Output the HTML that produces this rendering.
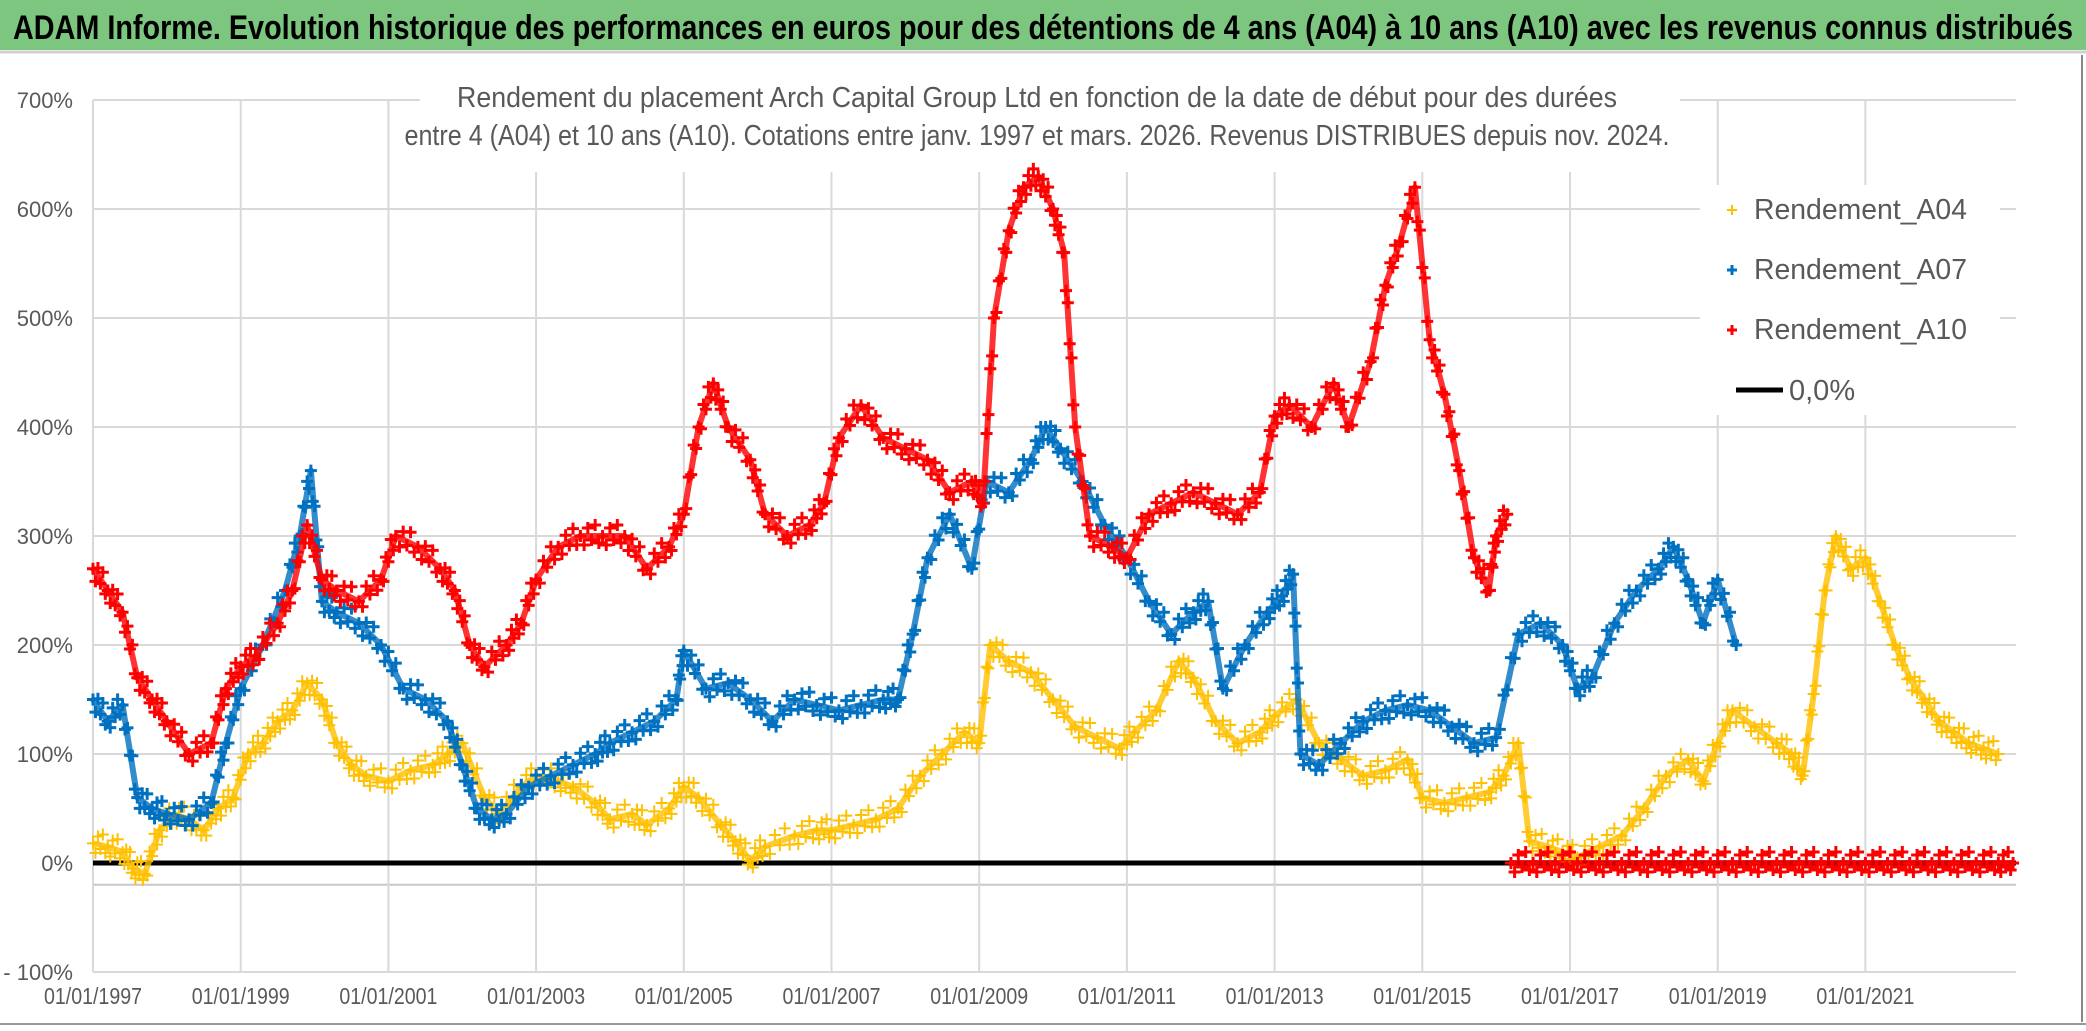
<!DOCTYPE html>
<html><head><meta charset="utf-8"><style>
body{margin:0;background:#fff;}
svg{display:block;font-family:"Liberation Sans Narrow","Liberation Sans",sans-serif;}
</style></head><body>
<svg id="chart" width="2086" height="1031" viewBox="0 0 2086 1031" xmlns="http://www.w3.org/2000/svg">
<rect x="0" y="0" width="2086" height="1031" fill="#fff"/>
<rect x="0" y="0" width="2086" height="50" fill="#7dc67f"/>
<line x1="0" y1="52" x2="2086" y2="52" stroke="#d0d0d0" stroke-width="3"/>
<text x="1043" y="39" text-anchor="middle" font-size="34" font-weight="bold" textLength="2060" lengthAdjust="spacingAndGlyphs" fill="#000">ADAM Informe. Evolution historique des performances en euros pour des détentions de 4 ans (A04) à 10 ans (A10) avec les revenus connus distribués</text>
<line x1="2082" y1="55" x2="2082" y2="1022" stroke="#888" stroke-width="2"/>
<line x1="0" y1="1024" x2="2086" y2="1024" stroke="#999" stroke-width="2"/>
<g id="grid"></g>
<g id="yticks"></g>
<g id="xticks"></g>
<rect x="420" y="72" width="1260" height="100" fill="#fff"/>
<g id="series"></g>
<text x="1037" y="107" text-anchor="middle" font-size="29" fill="#595959" textLength="1160" lengthAdjust="spacingAndGlyphs">Rendement du placement Arch Capital Group Ltd en fonction de la date de début pour des durées</text>
<text x="1037" y="145" text-anchor="middle" font-size="29" fill="#595959" textLength="1265" lengthAdjust="spacingAndGlyphs">entre 4 (A04) et 10 ans (A10). Cotations entre janv. 1997 et mars. 2026. Revenus DISTRIBUES depuis nov. 2024.</text>
<g>
<rect x="1700" y="185" width="300" height="230" fill="#fff"/>
<g><text x="1754" y="219" font-size="29" fill="#595959" textLength="213" lengthAdjust="spacingAndGlyphs">Rendement_A04</text><path d="M1727 210h10M1732 205v10" stroke="#ffc000" stroke-width="2"/></g>
<g><text x="1754" y="279" font-size="29" fill="#595959" textLength="213" lengthAdjust="spacingAndGlyphs">Rendement_A07</text><path d="M1727 270h10M1732 265v10" stroke="#0070c0" stroke-width="3"/></g>
<g><text x="1754" y="339" font-size="29" fill="#595959" textLength="213" lengthAdjust="spacingAndGlyphs">Rendement_A10</text><path d="M1727 330h10M1732 325v10" stroke="#ff0000" stroke-width="3"/></g>
<g><text x="1789" y="400" font-size="29" fill="#595959">0,0%</text><line x1="1736" y1="390" x2="1783" y2="390" stroke="#000" stroke-width="5"/></g>
</g>
</svg>
<script>
const yTicks=[700,600,500,400,300,200,100,0,-100];
const yTickLabels=["700%","600%","500%","400%","300%","200%","100%","0%","- 100%"];
const xTickYears=[1997,1999,2001,2003,2005,2007,2009,2011,2013,2015,2017,2019,2021];
const xTickLabels=["01/01/1997","01/01/1999","01/01/2001","01/01/2003","01/01/2005","01/01/2007","01/01/2009","01/01/2011","01/01/2013","01/01/2015","01/01/2017","01/01/2019","01/01/2021"];
const a04Dates=[1997.0,1997.2,1997.4,1997.55,1997.7,1997.9,1998.1,1998.3,1998.5,1998.7,1998.9,1999.1,1999.3,1999.5,1999.7,1999.9,2000.1,2000.3,2000.5,2000.7,2001.0,2001.3,2001.6,2001.8,2002.0,2002.3,2002.5,2002.8,2003.0,2003.3,2003.5,2003.8,2004.0,2004.3,2004.5,2004.8,2005.0,2005.2,2005.5,2005.7,2005.9,2006.1,2006.5,2006.8,2007.0,2007.3,2007.6,2007.9,2008.2,2008.5,2008.8,2009.0,2009.15,2009.4,2009.7,2010.0,2010.3,2010.6,2010.9,2011.1,2011.4,2011.7,2011.9,2012.2,2012.5,2012.8,2013.0,2013.3,2013.6,2013.9,2014.2,2014.5,2014.8,2015.0,2015.3,2015.6,2015.9,2016.1,2016.3,2016.45,2016.7,2016.9,2017.1,2017.4,2017.7,2018.0,2018.3,2018.6,2018.8,2019.0,2019.2,2019.5,2019.8,2020.0,2020.15,2020.3,2020.45,2020.6,2020.8,2021.0,2021.2,2021.4,2021.6,2021.8,2022.0,2022.2,2022.4,2022.6,2022.8];
const a04Values=[18,15,10,-5,-10,30,45,40,30,50,60,100,110,130,140,165,150,110,90,80,75,85,90,100,110,60,45,70,80,75,70,55,40,45,35,50,70,60,35,20,2,15,25,30,30,35,40,50,80,100,120,110,200,185,175,150,125,115,105,120,140,185,170,130,110,120,135,150,110,95,80,85,95,60,55,60,65,80,110,20,15,10,5,15,25,50,80,95,75,110,140,125,110,100,80,155,250,300,270,280,240,200,170,150,130,120,110,105,100];
const a07Dates=[1997.0,1997.2,1997.4,1997.6,1997.8,1998.0,1998.3,1998.6,1998.8,1999.0,1999.3,1999.6,1999.8,1999.95,2000.1,2000.3,2000.6,2000.9,2001.2,2001.5,2001.8,2002.0,2002.2,2002.4,2002.6,2002.9,2003.2,2003.5,2003.8,2004.0,2004.3,2004.6,2004.9,2005.0,2005.3,2005.6,2005.9,2006.2,2006.5,2006.8,2007.1,2007.4,2007.7,2007.9,2008.1,2008.3,2008.6,2008.9,2009.1,2009.4,2009.7,2009.9,2010.1,2010.4,2010.7,2011.0,2011.3,2011.6,2011.9,2012.1,2012.3,2012.6,2012.9,2013.1,2013.25,2013.35,2013.6,2013.9,2014.2,2014.5,2014.8,2015.1,2015.4,2015.7,2016.0,2016.3,2016.6,2016.9,2017.1,2017.3,2017.6,2017.9,2018.2,2018.4,2018.6,2018.8,2019.0,2019.25];
const a07Values=[150,130,145,60,50,45,40,55,110,160,200,250,300,360,240,230,220,200,160,150,130,90,50,40,45,70,80,90,100,110,120,130,150,195,160,165,150,130,150,145,140,145,150,150,210,280,320,270,350,340,370,400,380,350,310,280,240,210,230,240,160,200,230,245,265,100,90,110,130,140,145,140,125,110,115,210,220,200,160,170,220,250,270,290,260,220,260,200];
const a10Dates=[1997.0,1997.2,1997.4,1997.6,1997.8,1998.0,1998.3,1998.6,1998.8,1999.0,1999.2,1999.5,1999.7,1999.9,2000.1,2000.3,2000.6,2000.9,2001.1,2001.4,2001.7,2001.9,2002.1,2002.3,2002.6,2002.8,2003.0,2003.3,2003.6,2003.9,2004.2,2004.5,2004.8,2005.0,2005.2,2005.4,2005.6,2005.9,2006.1,2006.4,2006.7,2006.9,2007.1,2007.4,2007.7,2008.0,2008.3,2008.6,2008.9,2009.05,2009.2,2009.4,2009.6,2009.8,2010.0,2010.15,2010.3,2010.5,2010.8,2011.0,2011.3,2011.6,2011.9,2012.2,2012.5,2012.8,2013.0,2013.2,2013.5,2013.8,2014.0,2014.3,2014.5,2014.7,2014.9,2015.1,2015.3,2015.5,2015.7,2015.9,2016.0,2016.15];
const a10Values=[270,250,230,170,150,130,100,110,160,180,190,220,250,310,260,250,240,260,300,290,270,250,200,180,200,220,260,290,300,300,300,270,290,320,400,440,400,370,320,300,310,330,390,420,390,380,370,340,350,330,500,580,620,630,600,560,400,300,290,280,320,330,340,330,320,340,410,420,400,440,400,460,530,570,620,480,430,360,280,250,300,320];
const a10ZeroDates=[2016.2,2016.5,2016.8,2017.1,2017.4,2017.7,2018.0,2018.3,2018.6,2018.9,2019.2,2019.5,2019.8,2020.1,2020.4,2020.7,2021.0,2021.3,2021.6,2021.9,2022.2,2022.5,2022.8,2023.0];
const a10ZeroValues=[0,0,0,0,0,0,0,0,0,0,0,0,0,0,0,0,0,0,0,0,0,0,0,0];

const NS="http://www.w3.org/2000/svg";
const X0=93,PX_PER_YEAR=73.85,Y0=863,PX_PER_PCT=1.09;
function xs(d){return X0+(d-1997)*PX_PER_YEAR;}
function ys(v){return Y0-v*PX_PER_PCT;}
function mk(tag,attrs,parent){const e=document.createElementNS(NS,tag);for(const k in attrs)e.setAttribute(k,attrs[k]);parent.appendChild(e);return e;}
const grid=document.getElementById('grid'),yt=document.getElementById('yticks'),xt=document.getElementById('xticks'),ser=document.getElementById('series');
const XR=2016;
yTicks.forEach((v,i)=>{
  const l=mk('line',{x1:X0,x2:XR,y1:ys(v),y2:ys(v),stroke:'#d9d9d9','stroke-width':2},grid);
  
  
  const t=mk('text',{x:73,y:ys(v)+8,'text-anchor':'end','font-size':22,fill:'#595959'},yt);
  t.textContent=yTickLabels[i];
  
  
});
{const l=mk('line',{x1:X0,x2:XR,y1:ys(-20),y2:ys(-20),stroke:'#c8c8c8','stroke-width':2},grid);

}
xTickYears.forEach((d,i)=>{
  const l=mk('line',{x1:xs(d),x2:xs(d),y1:ys(700),y2:ys(-100),stroke:'#d9d9d9','stroke-width':2},grid);
  
  
  const t=mk('text',{x:xs(d),y:1004,'text-anchor':'middle','font-size':23,fill:'#595959',textLength:98,lengthAdjust:'spacingAndGlyphs'},xt);
  t.textContent=xTickLabels[i];
  
  
});
const zl=mk('line',{x1:X0,x2:XR,y1:ys(0),y2:ys(0),stroke:'#000','stroke-width':5},ser);


function drawSeries(dates,vals,color,name,sw){
  const g=mk('g',{},ser);
  
  
  const pts=dates.map((d,i)=>xs(d)+','+ys(vals[i])).join(' ');
  mk('polyline',{points:pts,fill:'none',stroke:color,'stroke-width':6,'stroke-linejoin':'round','stroke-opacity':0.8},g);
  let p='';
  for(let i=0;i<dates.length;i++){
    const x=xs(dates[i]),y=ys(vals[i]);
    p+=`M${x-6} ${y}h12M${x} ${y-6}v12`;
    if(i<dates.length-1){
      for(let k=1;k<6;k++){const f=k/6;const mx=x+(xs(dates[i+1])-x)*f,my=y+(ys(vals[i+1])-y)*f;const off=[9,-8,4,-11,7][k-1];p+=`M${mx-6} ${my+off}h12M${mx} ${my+off-6}v12`;}
    }
  }
  const m=mk('path',{d:p,stroke:color,'stroke-width':sw,fill:'none'},g);
  
  
}
drawSeries(a04Dates,a04Values,'#ffc000','series-a04',2);
drawSeries(a07Dates,a07Values,'#0070c0','series-a07',3);
drawSeries(a10Dates,a10Values,'#ff0000','series-a10',3);
drawSeries(a10ZeroDates,a10ZeroValues,'#ff0000','series-a10-zero',3);
</script>
</body></html>
